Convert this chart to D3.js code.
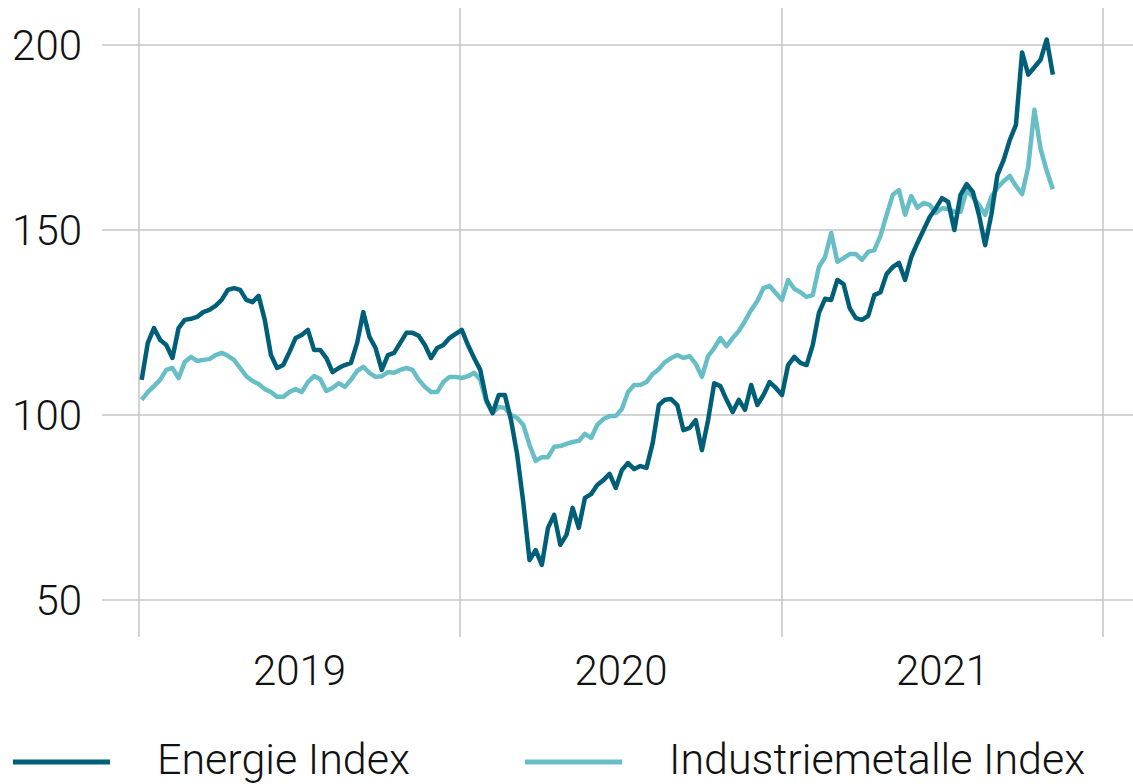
<!DOCTYPE html>
<html>
<head>
<meta charset="utf-8">
<script src="https://cdn.jsdelivr.net/npm/d3@7"></script>
<style>
  body { margin: 0; background: #fff; }
  svg text { font-family: Roboto, "Liberation Sans", sans-serif; font-weight: 300; fill: #111; }
  .grid line { stroke: #c4c4c4; stroke-width: 1.5px; }
  .series { fill: none; stroke-width: 4.5px; stroke-linejoin: round; }
</style>
</head>
<body>
<script>
// weekly closes, index values (Jan 2019 - Nov 2021)
var startDate = new Date(2019, 0, 4)

var energie = [
  109.5,119.5,123.5,120.3,118.9,115.4,123.5,125.7,126,126.5,
  127.8,128.4,129.5,131.1,133.8,134.3,133.8,131.1,130.5,132.2,
  125.7,116.2,112.7,113.5,117,120.8,121.6,123,117.6,117.6,
  115.4,111.6,112.7,113.5,114.1,119.5,127.8,121.1,118.1,112.2,
  116.2,116.8,119.5,122.2,122.2,121.4,118.9,115.4,118.1,118.9,
  120.8,121.9,123,118.9,115.4,112.2,104.1,100.5,105.4,105.4,
  98.6,89.2,76.2,60.8,63.5,59.5,69.5,73,64.9,67.6,
  74.9,69.5,77.6,78.6,81.1,82.4,84.1,80.3,85.1,87,
  85.4,86.2,85.7,92.4,102.7,104.1,104.3,102.7,95.9,96.5,
  98.6,90.5,98.6,108.6,107.8,104.1,100.8,104.1,101.4,108.1,
  102.7,105.4,108.9,107.3,105.4,113.5,115.7,114.1,113.5,118.9,
  127.6,131.4,131.1,136.5,135.4,128.9,126.2,125.7,126.8,132.4,
  133.2,138.1,140,141.1,136.5,142.7,146.5,150,153.5,155.9,
  158.6,157.6,150,159.5,162.4,160.3,154.1,145.9,154.1,164.9,
  168.9,174.3,178.4,198,192,194,196,201.5,192
]

var metalle = [
  104.1,106.2,107.8,109.5,112.2,112.7,110,114.3,115.7,114.6,
  114.9,115.1,116.2,116.8,116,114.9,112.7,110.5,109.2,108.4,
  107,106.2,104.9,104.9,106.2,107,106.2,108.9,110.5,109.7,
  106.5,107.3,108.6,107.6,109.5,111.9,113,111.4,110.3,110.5,
  111.6,111.4,112.2,112.7,112.2,109.5,107.6,106.2,106.2,108.9,
  110.3,110.3,110,110.5,111.4,109.5,103.5,100.5,102.2,101.9,
  100,99.2,97.3,91.9,87.6,88.6,88.6,91.4,91.6,92.2,
  92.7,93,94.9,93.8,97.3,98.9,99.7,99.7,101.6,106.2,
  108.1,108.1,108.9,111.1,112.4,114.3,115.4,116.2,115.4,115.9,
  113.8,110.3,115.9,118.1,120.8,118.6,120.8,122.7,125.4,128.4,
  130.8,134.3,134.9,133,131.1,136.5,134.1,133.2,131.9,132.4,
  140,142.7,149.2,141.4,142.4,143.5,143.5,141.9,144.1,144.6,
  148.4,154.1,159.5,160.8,154.1,159.2,156,157.3,156.8,154.6,
  155.9,155.7,154.9,154.9,160.8,158.9,156.8,154.1,158.9,161.4,
  163.2,164.6,161.9,159.7,167,182.5,172,166,161
]

var yTicks = [50, 100, 150, 200]
var years = [2019, 2020, 2021]
var seriesNames = ["Energie Index", "Industriemetalle Index"]
var seriesColors = ["#005f78", "#68bec6"]

var width = 1133,
    height = 784

var dates = energie.map(function(d, i) { return d3.timeDay.offset(startDate, 7 * i) })

var x = d3.scaleTime()
  .domain([new Date(2019, 0, 1), new Date(2022, 0, 1)])
  .range([139, 1103])

var y = d3.scaleLinear()
  .domain([40, 210])
  .range([637, 8])

var svg = d3.select("body").append("svg")
  .attr("width", width)
  .attr("height", height)

// horizontal grid + y labels
var yAxis = svg.append("g").attr("class", "grid")
yAxis.selectAll("line")
  .data(yTicks)
  .enter().append("line")
  .attr("x1", 102).attr("x2", width)
  .attr("y1", function(d) { return y(d) })
  .attr("y2", function(d) { return y(d) })

yAxis.selectAll("text")
  .data(yTicks)
  .enter().append("text")
  .attr("x", 82)
  .attr("y", function(d) { return y(d) })
  .attr("dy", "0.36em")
  .attr("text-anchor", "end")
  .style("font-size", "42px")
  .text(function(d) { return d })

// vertical grid at year boundaries
var yearStarts = x.ticks(d3.timeYear.every(1))
var xAxis = svg.append("g").attr("class", "grid")
xAxis.selectAll("line")
  .data(yearStarts)
  .enter().append("line")
  .attr("x1", function(d) { return x(d) })
  .attr("x2", function(d) { return x(d) })
  .attr("y1", 8).attr("y2", 637)

xAxis.selectAll("text")
  .data(years)
  .enter().append("text")
  .attr("x", function(d) { return (x(new Date(d, 0, 1)) + x(new Date(d + 1, 0, 1))) / 2 })
  .attr("y", 685)
  .attr("text-anchor", "middle")
  .style("font-size", "42px")
  .text(function(d) { return d })

// lines
var line = d3.line()
  .x(function(d, i) { return x(dates[i]) })
  .y(function(d) { return y(d) })

svg.append("path")
  .datum(metalle)
  .attr("class", "series")
  .attr("stroke", seriesColors[1])
  .attr("d", line)

svg.append("path")
  .datum(energie)
  .attr("class", "series")
  .attr("stroke", seriesColors[0])
  .attr("d", line)

// legend
var legendX = [13, 525]
var legend = svg.selectAll("g.legend")
  .data(seriesNames)
  .enter().append("g")
  .attr("class", "legend")
  .attr("transform", function(d, i) { return "translate(" + legendX[i] + ",762)" })

legend.append("line")
  .attr("x1", 0).attr("x2", 97)
  .attr("stroke", function(d, i) { return seriesColors[i] })
  .attr("stroke-width", 5)

legend.append("text")
  .attr("x", 144)
  .attr("y", 12)
  .style("font-size", "43px")
  .text(function(d) { return d })
</script>
</body>
</html>
